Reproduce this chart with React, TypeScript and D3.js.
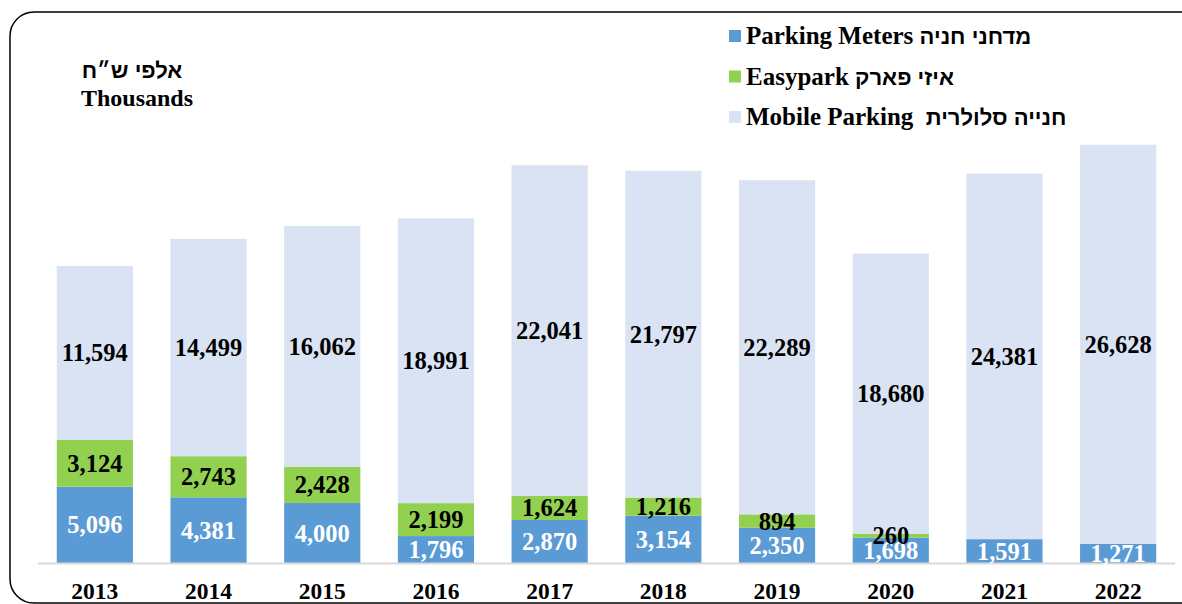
import React from "react";
import * as d3 from "d3";

const years = ["2013", "2014", "2015", "2016", "2017", "2018", "2019", "2020", "2021", "2022"];
const meters = [5096, 4381, 4000, 1796, 2870, 3154, 2350, 1698, 1591, 1271];
const easypark = [3124, 2743, 2428, 2199, 1624, 1216, 894, 260, 0, 0];
const mobile = [11594, 14499, 16062, 18991, 22041, 21797, 22289, 18680, 24381, 26628];

const seriesEn = ["Parking Meters ", "Easypark ", "Mobile Parking  "];
const seriesHe = ["מדחני חניה", "איזי פארק", "חנייה סלולרית"];
const colors = ["#5B9BD5", "#92D050", "#DAE3F3"];
const labelColors = ["#FFFFFF", "#000000", "#000000"];

const W = 1182;
const H = 604;
const FONT = "'Liberation Serif', 'Times New Roman', serif";
const HEB = "'Liberation Sans', 'DejaVu Sans', sans-serif";

export default function App() {
  const x = d3.scaleBand<string>().domain(years).range([38, 1175]).paddingInner(0.33).paddingOuter(0.165);
  const y = d3.scaleLinear().domain([0, 28000]).range([563, 563 - 28000 * 0.01499]);

  const table = years.map((yr, i) => ({ year: yr, m: meters[i], e: easypark[i], p: mobile[i] }));
  const stack = d3.stack<any>().keys(["m", "e", "p"])(table);
  const fmt = d3.format(",");

  return (
    <svg width={W} height={H} style={{ position: "absolute", left: 0, top: 0, background: "#fff" }} fontFamily={FONT}>
      <rect x={10} y={12} width={1196} height={591} rx={24} ry={24} fill="none" stroke="#000" strokeWidth={1.5} />
      {stack.map((s, si) => (
        <g key={si}>
          {s.map((d, i) => {
            const h = y(d[0]) - y(d[1]);
            if (h <= 0) return null;
            return (
              <rect key={i} x={x(years[i])} y={y(d[1])} width={x.bandwidth()} height={h} fill={colors[si]} />
            );
          })}
        </g>
      ))}
      <line x1={38} x2={1175} y1={563.5} y2={563.5} stroke="#D9D9D9" strokeWidth={2} />
      {stack.map((s, si) => (
        <g key={"l" + si}>
          {s.map((d, i) => {
            const v = d[1] - d[0];
            if (v <= 0) return null;
            const cx = (x(years[i]) as number) + x.bandwidth() / 2;
            const cy = (y(d[0]) + y(d[1])) / 2;
            return (
              <text key={i} x={cx} y={cy} dy="0.35em" textAnchor="middle" fontWeight="bold" fontSize={24.5} fill={labelColors[si]}>
                {fmt(v)}
              </text>
            );
          })}
        </g>
      ))}
      {years.map((yr) => (
        <text key={yr} x={(x(yr) as number) + x.bandwidth() / 2} y={599} textAnchor="middle" fontWeight="bold" fontSize={23.5} fill="#000">
          {yr}
        </text>
      ))}
      <text x={132} y={78} textAnchor="middle" fontWeight="bold" fontSize={22} fill="#000" fontFamily={HEB}>אלפי ש״ח</text>
      <text x={137} y={106} textAnchor="middle" fontWeight="bold" fontSize={24} fill="#000">Thousands</text>
      {seriesEn.map((n, i) => (
        <g key={n} transform={`translate(729,${30 + i * 40.5})`}>
          <rect x={0} y={0} width={12} height={12} fill={colors[i]} />
          <text x={17} y={14} fontWeight="bold" fontSize={25} fill="#000" style={{ whiteSpace: "pre" }}>
            {n}
            <tspan fontFamily={HEB} fontSize={22}>{seriesHe[i]}</tspan>
          </text>
        </g>
      ))}
    </svg>
  );
}
